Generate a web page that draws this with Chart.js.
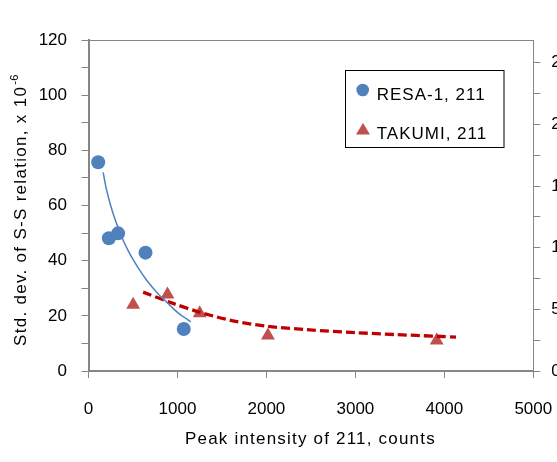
<!DOCTYPE html>
<html>
<head>
<meta charset="utf-8">
<script src="https://cdn.jsdelivr.net/npm/chart.js@4.4.0/dist/chart.umd.min.js"></script>
<style>
html, body { margin: 0; padding: 0; overflow: hidden; background: #fff; }
#wrap { width: 600px; height: 462px; }
</style>
</head>
<body>
<div id="wrap"><canvas id="chart" width="600" height="462"></canvas></div>
<script>
// ------------------- Data -------------------
const resaX = [109, 229, 333, 641, 1071];
const resaY = [75.7, 48.1, 49.9, 42.9, 15.2];
const takumiX = [502, 888, 1250, 2017, 3914];
const takumiY = [24.0, 27.7, 20.9, 12.9, 11.1];

// trendlines as they appear in the picture
const resaTrendX = [165, 200, 250, 300, 350, 400, 450, 500, 577, 650, 720, 800, 877, 950, 1010, 1080, 1149];
const resaTrendY = [72.0, 66.1, 59.9, 54.8, 50.5, 46.7, 43.4, 40.5, 36.5, 33.1, 30.3, 27.4, 25.0, 22.7, 21.0, 19.4, 17.8];
const takumiTrendX = [614, 951, 1262, 1624, 2017, 2448, 3009, 3458, 3907, 4131];
const takumiTrendY = [28.6, 24.5, 21.2, 18.2, 16.2, 15.0, 13.9, 13.2, 12.6, 12.3];

const seriesNames = ['RESA-1, 211', 'TAKUMI, 211'];

// tick labels
const xTickValues = [0, 1000, 2000, 3000, 4000, 5000];
const yTickValues = [0, 20, 40, 60, 80, 100, 120];
const rightTickValues = [0, 5, 10, 15, 20, 25];

const xTitle = 'Peak intensity of 211, counts';
const yTitle = 'Std. dev. of S-S relation, x 10';
const yTitleSup = '-6';

// ------------------- Styles -------------------
const BLUE = '#4F81BD';
const RED = '#C0504D';
const DARK_RED = '#C00000';
const AXIS = '#868686';
const FONT = "'Liberation Sans', Arial, sans-serif";
const tickFont = { family: FONT, size: 17 };

const toPoints = (xs, ys) => xs.map((x, i) => ({ x: x, y: ys[i] }));

// ------------------- Titles, legend box, plot border -------------------
const decorations = {
    id: 'decorations',
    afterDraw(chart) {
        const ctx = chart.ctx;
        const area = chart.chartArea;
        ctx.save();

        // top border of the plot area
        ctx.strokeStyle = AXIS;
        ctx.lineWidth = 1;
        ctx.beginPath();
        ctx.moveTo(area.left, Math.round(area.top) + 0.5);
        ctx.lineTo(area.right, Math.round(area.top) + 0.5);
        ctx.stroke();

        ctx.fillStyle = '#000';

        // x title
        ctx.font = '17px ' + FONT;
        ctx.letterSpacing = '1.2px';
        ctx.textAlign = 'center';
        ctx.textBaseline = 'middle';
        ctx.fillText(xTitle, (area.left + area.right) / 2 - 0.5, 439);

        // y title with superscript
        ctx.save();
        ctx.translate(21, 210.5);
        ctx.rotate(-Math.PI / 2);
        ctx.textAlign = 'left';
        ctx.textBaseline = 'middle';
        ctx.font = '17px ' + FONT;
        ctx.letterSpacing = '1.3px';
        const mainW = ctx.measureText(yTitle).width;
        ctx.font = '11px ' + FONT;
        ctx.letterSpacing = '0.5px';
        const supW = ctx.measureText(yTitleSup).width;
        const start = -(mainW + supW) / 2;
        ctx.font = '17px ' + FONT;
        ctx.letterSpacing = '1.3px';
        ctx.fillText(yTitle, start, 0);
        ctx.font = '11px ' + FONT;
        ctx.letterSpacing = '0.5px';
        ctx.fillText(yTitleSup, start + mainW + 1, -6);
        ctx.restore();

        // legend
        ctx.strokeStyle = '#000';
        ctx.lineWidth = 1;
        ctx.strokeRect(345.5, 70.5, 158.5, 77);

        ctx.fillStyle = BLUE;
        ctx.beginPath();
        ctx.arc(362.7, 90, 6.3, 0, Math.PI * 2);
        ctx.fill();

        ctx.fillStyle = RED;
        ctx.beginPath();
        ctx.moveTo(363, 123);
        ctx.lineTo(370, 134.5);
        ctx.lineTo(356, 134.5);
        ctx.closePath();
        ctx.fill();

        ctx.fillStyle = '#000';
        ctx.font = '17px ' + FONT;
        ctx.letterSpacing = '1px';
        ctx.textAlign = 'left';
        ctx.textBaseline = 'alphabetic';
        ctx.fillText(seriesNames[0], 376.7, 99.5);
        ctx.fillText(seriesNames[1], 376.7, 139);

        ctx.restore();
    }
};

// ------------------- Chart -------------------
const ctx = document.getElementById('chart').getContext('2d');
new Chart(ctx, {
    type: 'scatter',
    data: {
        datasets: [
            {
                label: seriesNames[0] + ' trend',
                data: toPoints(resaTrendX, resaTrendY),
                showLine: true,
                pointRadius: 0,
                borderColor: BLUE,
                borderWidth: 1.5,
                tension: 0.3,
                order: 0
            },
            {
                label: seriesNames[1] + ' trend',
                data: toPoints(takumiTrendX, takumiTrendY),
                showLine: true,
                pointRadius: 0,
                borderColor: DARK_RED,
                borderWidth: 3.3,
                borderDash: [9, 4],
                tension: 0.3,
                order: 1
            },
            {
                label: seriesNames[0],
                data: toPoints(resaX, resaY),
                pointStyle: 'circle',
                pointRadius: 7,
                pointBorderWidth: 0,
                backgroundColor: BLUE,
                borderColor: BLUE,
                order: 2
            },
            {
                label: seriesNames[1],
                data: toPoints(takumiX, takumiY),
                pointStyle: 'triangle',
                pointRadius: 8,
                pointBorderWidth: 0,
                backgroundColor: RED,
                borderColor: RED,
                order: 3
            }
        ]
    },
    options: {
        responsive: false,
        animation: false,
        layout: { padding: { top: 40, left: 0, right: 0, bottom: 0 } },
        plugins: {
            legend: { display: false },
            tooltip: { enabled: false }
        },
        scales: {
            x: {
                type: 'linear',
                position: 'bottom',
                min: 0,
                max: 5000,
                afterBuildTicks: s => { s.ticks = xTickValues.map(v => ({ value: v })); },
                afterFit: s => { s.height = 91; },
                ticks: {
                    autoSkip: false, maxRotation: 0, padding: 21, color: '#000', font: tickFont,
                    callback: v => String(v)
                },
                grid: { drawOnChartArea: false, drawTicks: true, tickLength: 7, color: AXIS, lineWidth: 1 },
                border: { color: AXIS, width: 2 }
            },
            y: {
                type: 'linear',
                position: 'left',
                min: 0,
                max: 120,
                afterBuildTicks: s => {
                    s.ticks = yTickValues.flatMap(v => [v, v + 10]).filter(v => v <= 120).map(v => ({ value: v }));
                },
                afterFit: s => { s.width = 88.5; },
                ticks: {
                    autoSkip: false, padding: 14.5, color: '#000', font: tickFont,
                    callback: v => yTickValues.includes(v) ? String(v) : ''
                },
                grid: { drawOnChartArea: false, drawTicks: true, tickLength: 7, color: AXIS, lineWidth: 1 },
                border: { color: AXIS, width: 2 }
            },
            y2: {
                type: 'linear',
                position: 'right',
                min: 0,
                max: 26.84,
                afterBuildTicks: s => {
                    s.ticks = rightTickValues.flatMap(v => [v, v + 2.5]).filter(v => v <= 25).map(v => ({ value: v }));
                },
                afterFit: s => { s.width = 66.7; },
                ticks: {
                    autoSkip: false, padding: 11, color: '#000', font: tickFont,
                    callback: v => rightTickValues.includes(v) ? String(v) : ''
                },
                grid: { drawOnChartArea: false, drawTicks: true, tickLength: 7, color: AXIS, lineWidth: 1 },
                border: { color: AXIS, width: 1 }
            }
        }
    },
    plugins: [decorations]
});
</script>
</body>
</html>
